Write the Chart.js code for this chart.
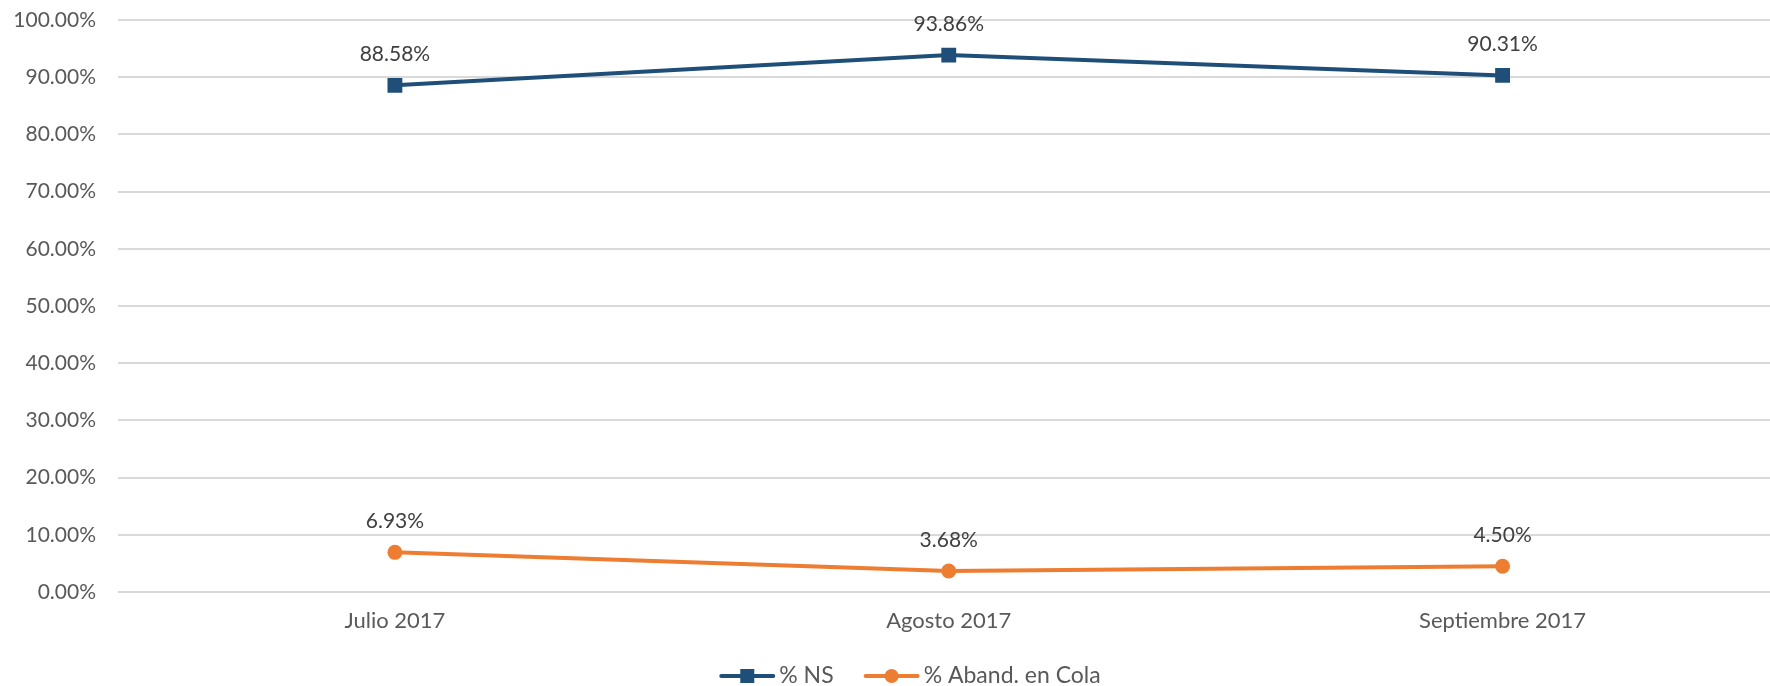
<!DOCTYPE html>
<html>
<head>
<meta charset="utf-8">
<script src="https://cdn.jsdelivr.net/npm/chart.js@4"></script>
<style>
    html, body { margin: 0; padding: 0; background: #fff; overflow: hidden; }
    .wrap { width: 1790px; height: 686px; }
</style>
</head>
<body>
<div class="wrap">
    <canvas id="myChart" width="1790" height="686"></canvas>
</div>
<script>
// datos
const months = ['Julio 2017', 'Agosto 2017', 'Septiembre 2017'];
const nsValues = [88.58, 93.86, 90.31];
const abandValues = [6.93, 3.68, 4.50];
const yTicks = [0, 10, 20, 30, 40, 50, 60, 70, 80, 90, 100];

const blue = '#1f4e79';
const orange = '#ed7d31';
const font = 'Lato, "Open Sans", sans-serif';

// marcador (cuadrado o circulo) sobre una linea corta
function drawIcon(ctx, x, y, color, shape) {
    ctx.strokeStyle = color;
    ctx.fillStyle = color;
    ctx.lineWidth = 4;
    ctx.lineCap = 'round';
    ctx.beginPath();
    ctx.moveTo(x + 2, y);
    ctx.lineTo(x + 54, y);
    ctx.stroke();
    if (shape === 'rect') {
        ctx.fillRect(x + 21, y - 7, 14, 14);
    } else {
        ctx.beginPath();
        ctx.arc(x + 28, y, 7, 0, Math.PI * 2);
        ctx.fill();
    }
}

// etiquetas de datos encima de cada punto
const dataLabels = {
    id: 'dataLabels',
    afterDatasetsDraw(chart) {
        const ctx = chart.ctx;
        ctx.save();
        ctx.font = '21px ' + font;
        ctx.fillStyle = '#404040';
        ctx.textAlign = 'center';
        ctx.textBaseline = 'middle';
        chart.data.datasets.forEach((ds, i) => {
            chart.getDatasetMeta(i).data.forEach((pt, j) => {
                ctx.fillText(ds.data[j].toFixed(2) + '%', pt.x, pt.y - 31);
            });
        });
        ctx.restore();
    }
};

// leyenda abajo, estilo excel (linea + marcador)
const lineLegend = {
    id: 'lineLegend',
    afterDraw(chart) {
        const ctx = chart.ctx;
        const y = 676;
        ctx.save();
        ctx.font = '23px ' + font;
        ctx.textBaseline = 'middle';
        const items = chart.data.datasets.map(ds => ({ ds, w: 60 + ctx.measureText(ds.label).width }));
        const total = items.reduce((s, it) => s + it.w, 0) + 30 * (items.length - 1);
        let x = 910 - total / 2;
        items.forEach(it => {
            drawIcon(ctx, x, y, it.ds.borderColor, it.ds.pointStyle);
            ctx.fillStyle = '#595959';
            ctx.textAlign = 'left';
            ctx.fillText(it.ds.label, x + 60, y);
            x += it.w + 30;
        });
        ctx.restore();
    }
};

const config = {
    type: 'line',
    data: {
        labels: months,
        datasets: [{
            label: '% NS',
            data: nsValues,
            borderColor: blue,
            backgroundColor: blue,
            borderWidth: 4,
            pointStyle: 'rect',
            pointRadius: 10.5,
            pointBorderWidth: 0,
            tension: 0
        }, {
            label: '% Aband. en Cola',
            data: abandValues,
            borderColor: orange,
            backgroundColor: orange,
            borderWidth: 4,
            pointStyle: 'circle',
            pointRadius: 7.5,
            pointBorderWidth: 0,
            tension: 0
        }]
    },
    options: {
        responsive: false,
        animation: false,
        layout: { padding: { top: 20, right: 10, bottom: 0, left: 0 } },
        plugins: {
            tooltip: { enabled: false },
            legend: { display: false }
        },
        scales: {
            x: {
                offset: true,
                grid: { display: false, drawTicks: false },
                border: { display: false },
                afterFit: (scale) => { scale.height = 94; },
                ticks: { color: '#595959', padding: 16, font: { family: font, size: 22 } }
            },
            y: {
                min: 0,
                max: 100,
                afterBuildTicks: (scale) => { scale.ticks = yTicks.map(v => ({ value: v })); },
                afterFit: (scale) => { scale.width = 118; },
                grid: { color: '#d9d9d9', lineWidth: 2, drawTicks: true, tickLength: 22, tickColor: 'rgba(0,0,0,0)' },
                border: { display: false },
                ticks: {
                    color: '#595959',
                    padding: 0,
                    font: { family: font, size: 21 },
                    callback: (v) => v.toFixed(2) + '%'
                }
            }
        }
    },
    plugins: [dataLabels, lineLegend]
};

const chart = new Chart(document.getElementById('myChart').getContext('2d'), config);
</script>
</body>
</html>
